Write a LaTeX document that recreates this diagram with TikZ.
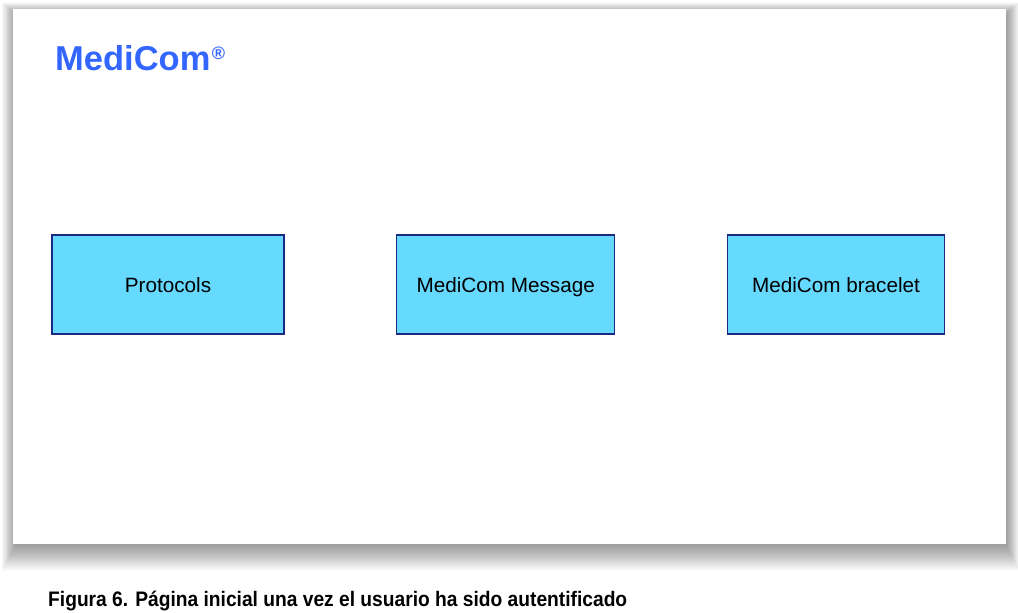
\documentclass[tikz,border=0pt]{standalone}
\usepackage{fontspec}
\setmainfont{Liberation Sans}
\usepackage{graphicx}
\definecolor{titleblue}{RGB}{51,102,255}
\definecolor{boxfill}{RGB}{102,217,255}
\definecolor{boxline}{RGB}{28,40,130}
\tikzset{
  menubox/.style={draw=boxline, line width=1.4pt, fill=boxfill, minimum width=231pt, minimum height=99pt, inner sep=0pt, font=\fontsize{20.7}{22}\selectfont, text=black, text height=15pt, text depth=0pt},
  panel/.style={fill=white, draw=none},
}
\begin{document}
\begin{tikzpicture}[x=1pt,y=-1pt]
\useasboundingbox (0,0) rectangle (1018,613);
\fill[white] (0,0) rectangle (1018,613);
% blurred shadow of the panel
\foreach \r in {1,...,26}{
  \fill[black, opacity=0.016] (13-0.55*\r+3,9-0.45*\r+5) rectangle (1006+0.5*\r,544+\r+1);
}
\fill[panel] (13,9) rectangle (1006,544);
% title
\node[anchor=base west, inner sep=0pt, text=titleblue, font=\fontsize{34.5}{36}\selectfont\bfseries] (title) at (55,70) {MediCom\hspace{1.5pt}\raisebox{10pt}{\fontsize{18}{18}\selectfont\bfseries ®}};
% menu boxes
\node[menubox, minimum width=232pt] (protocols) at (168,284.5) {Protocols};
\node[menubox, minimum width=218pt] (message) at (505.7,284.5) {MediCom Message};
\node[menubox, minimum width=217.5pt] (bracelet) at (836,284.5) {MediCom bracelet};
% caption
\node[anchor=base west, inner sep=0pt, font=\fontsize{21}{23}\selectfont\bfseries] (caption) at (48,606) {\resizebox{579pt}{\height}{Figura 6. Página inicial una vez el usuario ha sido autentificado}};
\end{tikzpicture}
\end{document}
